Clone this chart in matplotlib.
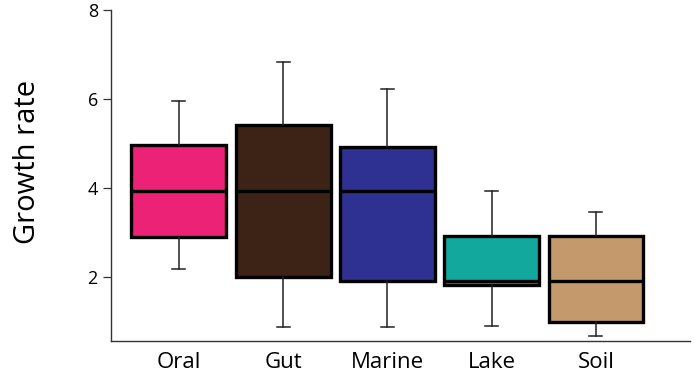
import matplotlib.pyplot as plt

# DATA
categories = ['Oral', 'Gut', 'Marine', 'Lake', 'Soil']
whisker_low = [2.17, 0.87, 0.87, 0.89, 0.67]
q1 = [2.90, 1.99, 1.91, 1.81, 0.97]
medians = [3.93, 3.92, 3.93, 1.90, 1.90]
q3 = [4.95, 5.41, 4.92, 2.92, 2.92]
whisker_high = [5.96, 6.83, 6.22, 3.93, 3.46]
colors = ['#EC2277', '#3D2316', '#2E3192', '#13A89E', '#C49A6C']
yticks = [2, 4, 6, 8]

plt.rcParams['font.family'] = ['Open Sans', 'DejaVu Sans']

fig = plt.figure(figsize=(6.94, 3.79), dpi=100)
ax = fig.add_axes([0.160, 0.100, 0.834, 0.874])

stats = []
for i, name in enumerate(categories):
    stats.append({'label': name, 'whislo': whisker_low[i], 'q1': q1[i],
                  'med': medians[i], 'q3': q3[i], 'whishi': whisker_high[i],
                  'fliers': []})

bp = ax.bxp(stats, positions=range(len(categories)), widths=0.91,
            capwidths=0.125, patch_artist=True, showfliers=False,
            boxprops=dict(linewidth=2.4, edgecolor='black'),
            medianprops=dict(color='black', linewidth=2.4),
            whiskerprops=dict(color='#222222', linewidth=1.1),
            capprops=dict(color='#222222', linewidth=1.1))
for patch, c in zip(bp['boxes'], colors):
    patch.set_facecolor(c)

ax.set_xlim(-0.65, 4.9)
ax.set_ylim(0.55, 8)
ax.set_yticks(yticks)
ax.set_ylabel('Growth rate', fontsize=21, labelpad=33, y=0.54)

for s in ['top', 'right']:
    ax.spines[s].set_visible(False)
for s in ['left', 'bottom']:
    ax.spines[s].set_color('#333333')
    ax.spines[s].set_linewidth(1.0)

ax.tick_params(axis='y', length=5.5, width=0.9, color='#333333',
               labelsize=13, pad=4)
ax.tick_params(axis='x', length=0, labelsize=16, pad=8)

plt.savefig('out.png', dpi=100)
plt.close()
